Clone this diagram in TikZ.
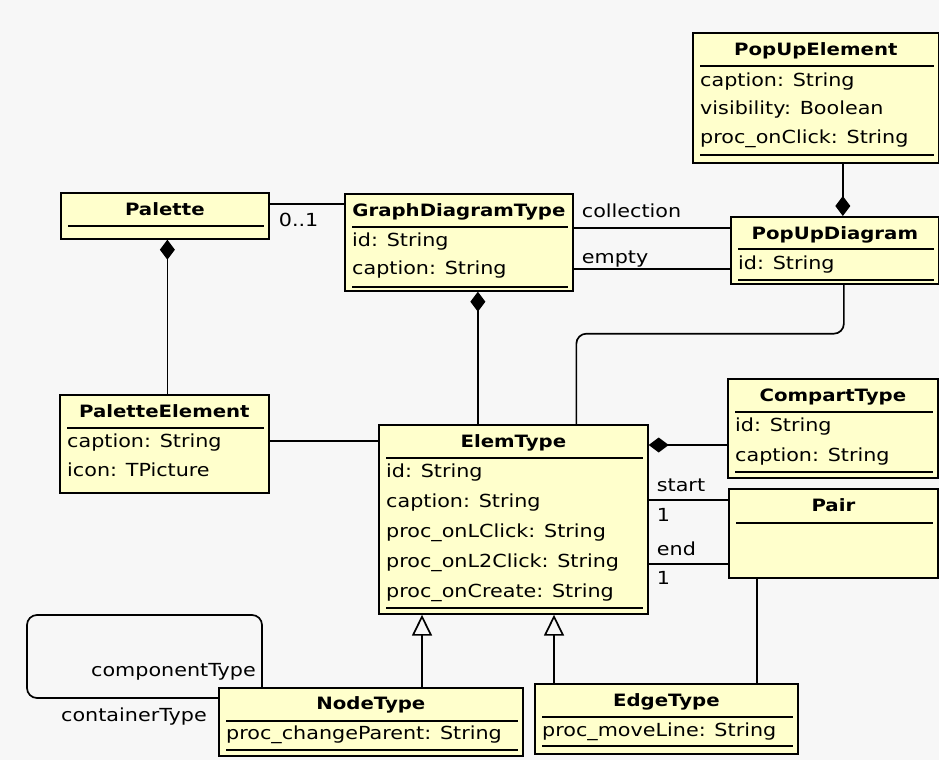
\documentclass[tikz,border=0pt]{standalone}
\usepackage{fontspec}
\setmainfont{DejaVu Sans}[UprightFeatures={FakeStretch=1.15}, BoldFeatures={FakeStretch=1.16}]
\usetikzlibrary{arrows.meta,calc}
\definecolor{umlpaper}{HTML}{F7F7F7}
\definecolor{umlfill}{HTML}{FFFFCC}
\newcommand\umlfont{\fontsize{18}{21}\selectfont}
\newcommand\umltitlefont{\fontsize{17}{20}\selectfont\bfseries}
% compartment rule inside a class box, #2 pt below its top edge
\newcommand\umlrule[2]{\draw[sep] ([xshift=8pt,yshift=-#2pt]#1.north west) -- ([xshift=-6pt,yshift=-#2pt]#1.north east);}
% attribute line: box, name of the text node, offset from the top, text
\newcommand\umlattr[4]{\node[att] (#2) at ([xshift=8pt,yshift=-#3pt]#1.north west) {#4};}
\begin{document}
\begin{tikzpicture}[x=1pt,y=-1pt,font=\umlfont,
  cls/.style={draw=black,fill=umlfill,line width=1.7pt,anchor=north west,inner sep=0pt},
  ttl/.style={font=\umltitlefont,inner sep=0pt,text height=12pt,text depth=4pt},
  att/.style={anchor=west,inner sep=0pt,text height=13pt,text depth=4pt},
  lbl/.style={inner sep=0pt,text height=13pt,text depth=4pt},
  sep/.style={line width=1.7pt},
  wire/.style={line width=1.7pt},
  comp/.style={wire,-{Diamond[length=20pt,width=15pt]}},
  gen/.style={wire,-{Triangle[open,length=21pt,width=20pt]}}]

\fill[umlpaper] (0,0) rectangle (939,760);
\useasboundingbox (0,0) rectangle (939,760);

% ---- classes ----
\node[cls,minimum width=208pt,minimum height=46pt] (pal) at (60,192) {};
\node[ttl] (pal-t) at ([yshift=-19pt]pal.north) {Palette};
\umlrule{pal}{34}

\node[cls,minimum width=228pt,minimum height=97pt] (gdt) at (344,193) {};
\node[ttl] (gdt-t) at ([yshift=-19pt]gdt.north) {GraphDiagramType};
\umlrule{gdt}{34}
\umlattr{gdt}{gdt-a}{49}{id: String}
\umlattr{gdt}{gdt-b}{77}{caption: String}
\umlrule{gdt}{94}

\node[cls,minimum width=246pt,minimum height=130pt] (pue) at (692,32) {};
\node[ttl] (pue-t) at ([yshift=-20pt]pue.north) {PopUpElement};
\umlrule{pue}{34}
\umlattr{pue}{pue-a}{50}{caption: String}
\umlattr{pue}{pue-b}{78}{visibility: Boolean}
\umlattr{pue}{pue-c}{107}{proc\_onClick: String}
\umlrule{pue}{123}

\node[cls,minimum width=208pt,minimum height=67pt] (pud) at (730,216) {};
\node[ttl] (pud-t) at ([yshift=-19pt]pud.north) {PopUpDiagram};
\umlrule{pud}{33}
\umlattr{pud}{pud-a}{49}{id: String}
\umlrule{pud}{64}

\node[cls,minimum width=209pt,minimum height=98pt] (pel) at (59,394) {};
\node[ttl] (pel-t) at ([yshift=-19pt]pel.north) {PaletteElement};
\umlrule{pel}{34}
\umlattr{pel}{pel-a}{49}{caption: String}
\umlattr{pel}{pel-b}{78}{icon: TPicture}

\node[cls,minimum width=269pt,minimum height=189pt] (elem) at (378,424) {};
\node[ttl] (elem-t) at ([yshift=-19pt]elem.north) {ElemType};
\umlrule{elem}{34}
\umlattr{elem}{elem-a}{49}{id: String}
\umlattr{elem}{elem-b}{79}{caption: String}
\umlattr{elem}{elem-c}{109}{proc\_onLClick: String}
\umlattr{elem}{elem-d}{139}{proc\_onL2Click: String}
\umlattr{elem}{elem-e}{169}{proc\_onCreate: String}
\umlrule{elem}{184}

\node[cls,minimum width=210pt,minimum height=99pt] (cmp) at (727,378) {};
\node[ttl] (cmp-t) at ([yshift=-19pt]cmp.north) {CompartType};
\umlrule{cmp}{34}
\umlattr{cmp}{cmp-a}{49}{id: String}
\umlattr{cmp}{cmp-b}{79}{caption: String}
\umlrule{cmp}{94}

\node[cls,minimum width=209pt,minimum height=89pt] (pair) at (728,488) {};
\node[ttl] (pair-t) at ([yshift=-19pt]pair.north) {Pair};
\umlrule{pair}{35}

\node[cls,minimum width=304pt,minimum height=68pt] (ntype) at (218,687) {};
\node[ttl] (ntype-t) at ([yshift=-18pt]ntype.north) {NodeType};
\umlrule{ntype}{34}
\umlattr{ntype}{ntype-a}{48}{proc\_changeParent: String}
\umlrule{ntype}{63}

\node[cls,minimum width=263pt,minimum height=70pt] (etype) at (534,683) {};
\node[ttl] (etype-t) at ([yshift=-19pt]etype.north) {EdgeType};
\umlrule{etype}{34}
\umlattr{etype}{etype-a}{49}{proc\_moveLine: String}
\umlrule{etype}{63}

% ---- associations ----
\coordinate (pg) at ([yshift=-12pt]pal.north east);
\draw[wire] (pg) -- (pg -| gdt.west);
\node[lbl,anchor=west] (pg-m) at ([xshift=9pt,yshift=-18pt]pg) {0..1};

\coordinate (gc) at ([yshift=-35pt]gdt.north east);
\draw[wire] (gc) -- (gc -| pud.west);
\node[lbl,anchor=west] (gc-l) at ([xshift=8pt,yshift=15pt]gc) {collection};

\coordinate (ge) at ([yshift=-76pt]gdt.north east);
\draw[wire] (ge) -- (ge -| pud.west);
\node[lbl,anchor=west] (ge-l) at ([xshift=8pt,yshift=10pt]ge) {empty};

\coordinate (pe) at ([yshift=-47pt]pel.north east);
\draw[wire] (pe) -- (pe -| elem.west);

\draw[wire,rounded corners=10pt] ([xshift=9pt]pud.south) -- ++(0,49) -| ([xshift=63pt]elem.north);

\coordinate (es) at ([yshift=-76pt]elem.north east);
\draw[wire] (es) -- (es -| pair.west);
\node[lbl,anchor=west] (es-l) at ([xshift=8pt,yshift=13pt]es) {start};
\node[lbl,anchor=west] (es-m) at ([xshift=8pt,yshift=-17pt]es) {1};

\coordinate (ee) at ([yshift=-140pt]elem.north east);
\draw[wire] (ee) -- (ee -| pair.west);
\node[lbl,anchor=west] (ee-l) at ([xshift=8pt,yshift=13pt]ee) {end};
\node[lbl,anchor=west] (ee-m) at ([xshift=8pt,yshift=-16pt]ee) {1};

\coordinate (pt) at ([xshift=29pt]pair.south west);
\draw[wire] (pt) -- (pt |- etype.north);

% ---- compositions ----
\draw[comp] ([xshift=27pt]pue.south) -- ([xshift=8pt]pud.north);
\draw[comp] ([xshift=3pt]pel.north) -- ([xshift=3pt]pel.north |- pal.south);
\coordinate (gf) at ([xshift=19pt]gdt.south);
\draw[comp] (gf |- elem.north) -- (gf);
\coordinate (ec) at ([yshift=-21pt]elem.north east);
\draw[comp] (ec -| cmp.west) -- (ec);

% ---- generalizations ----
\coordinate (ng) at ([xshift=204pt]ntype.north west);
\draw[gen] (ng) -- (ng |- elem.south);
\coordinate (eg) at ([xshift=20pt]etype.north west);
\draw[gen] (eg) -- (eg |- elem.south);

% ---- NodeType self association ----
\coordinate (nl) at ([xshift=44pt]ntype.north west);
\draw[wire,rounded corners=10pt] (nl) -- ++(0,-72) -| ++(-235,83) -- ([yshift=-11pt]ntype.north west);
\node[lbl,anchor=east] (nl-a) at ([xshift=-6pt,yshift=15pt]nl) {componentType};
\node[lbl,anchor=east] (nl-b) at ([xshift=-11pt,yshift=-30pt]ntype.north west) {containerType};
\end{tikzpicture}
\end{document}
